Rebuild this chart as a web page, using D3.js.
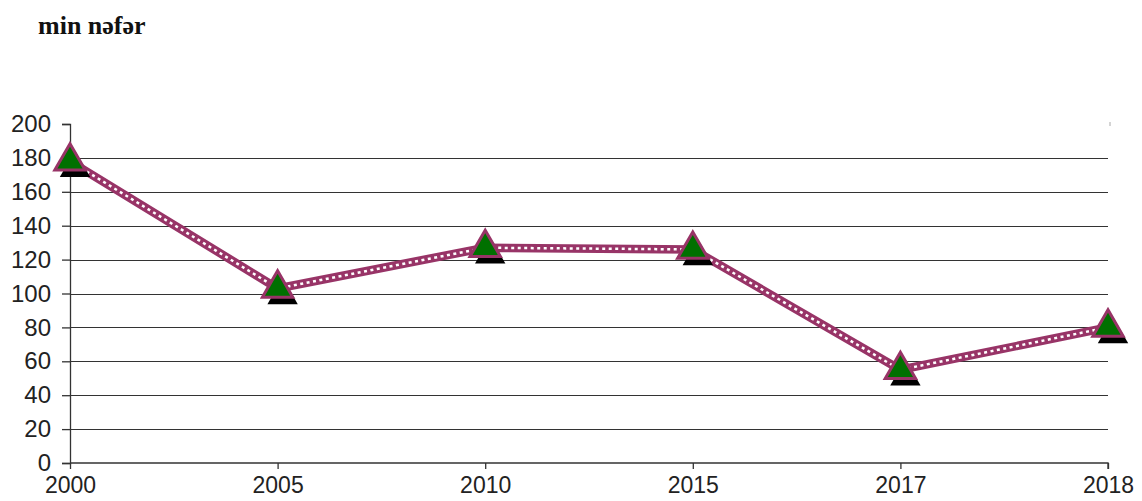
<!DOCTYPE html>
<html>
<head>
<meta charset="utf-8">
<script src="https://cdn.jsdelivr.net/npm/d3@7"></script>
<style>
  body { margin: 0; background: #fff; }
  svg { display: block; }
</style>
</head>
<body>
<script>
// chart data
const years = ["2000", "2005", "2010", "2015", "2017", "2018"];
const values = [178, 103, 127, 126, 55, 80];
const yTicks = [0, 20, 40, 60, 80, 100, 120, 140, 160, 180, 200];
const unitLabel = "min nəfər";

const width = 1142, height = 501;
const margin = {top: 124, right: 34, bottom: 38, left: 70};

const svg = d3.select("body").append("svg")
    .attr("width", width).attr("height", height);

const x = d3.scalePoint().domain(years).range([margin.left, width - margin.right]);
const y = d3.scaleLinear().domain([0, 200]).range([height - margin.bottom, margin.top]);

// unit title
svg.append("text")
    .attr("x", 38).attr("y", 34)
    .attr("font-family", "Liberation Serif, DejaVu Serif, serif")
    .attr("font-weight", "bold")
    .attr("font-size", 26)
    .attr("fill", "#111")
    .text(unitLabel);

// gridlines (not at 0 and 200)
svg.append("g").selectAll("line")
    .data(yTicks.filter(d => d > 0 && d < 200))
    .join("line")
    .attr("x1", margin.left).attr("x2", width - margin.right)
    .attr("y1", d => Math.round(y(d)) + 0.5).attr("y2", d => Math.round(y(d)) + 0.5)
    .attr("stroke", "#333").attr("stroke-width", 1.2);

// y axis
const yAxis = d3.axisLeft(y).tickValues(yTicks).tickSize(8).tickPadding(11);
const gy = svg.append("g")
    .attr("transform", "translate(" + margin.left + ",0)")
    .call(yAxis);

// x axis
const xAxis = d3.axisBottom(x).tickSize(6).tickPadding(8);
const gx = svg.append("g")
    .attr("transform", "translate(0," + y(0) + ")")
    .call(xAxis);

[gx, gy].forEach(g => {
    g.selectAll("path, line").attr("stroke", "#333").attr("stroke-width", 1.3);
    g.selectAll("text")
        .attr("font-family", "Liberation Sans, Arial, sans-serif")
        .attr("font-size", 24)
        .attr("fill", "#222");
});
gx.selectAll("text").attr("font-size", 23);
gx.select(".domain").attr("d", "M" + margin.left + ",0H" + (width - margin.right) + "V6");

// tiny mark on the right at top
svg.append("line")
    .attr("x1", width - margin.right + 2).attr("x2", width - margin.right + 2)
    .attr("y1", y(200) - 2).attr("y2", y(200) + 2)
    .attr("stroke", "#aaa");

const pts = years.map((yr, i) => [x(yr), y(values[i])]);

// line: thick purple with white dotted core
const line = d3.line();
svg.append("path")
    .attr("d", line(pts))
    .attr("fill", "none")
    .attr("stroke", "#983467")
    .attr("stroke-width", 8.5)
    .attr("stroke-linejoin", "miter");
svg.append("path")
    .attr("d", line(pts))
    .attr("fill", "none")
    .attr("stroke", "#fff")
    .attr("stroke-width", 2.5)
    .attr("stroke-dasharray", "3,3.5");

// triangle markers with black shadow
const tri = d3.symbol().type(d3.symbolTriangle).size(400);
const markers = svg.append("g").selectAll("g")
    .data(pts)
    .join("g")
    .attr("transform", d => "translate(" + d[0] + "," + d[1] + ")");
markers.append("path")
    .attr("d", tri)
    .attr("transform", "translate(5,7)")
    .attr("fill", "#000");
markers.append("path")
    .attr("d", tri)
    .attr("fill", "#007000")
    .attr("stroke", "#983467")
    .attr("stroke-width", 3);
</script>
</body>
</html>
